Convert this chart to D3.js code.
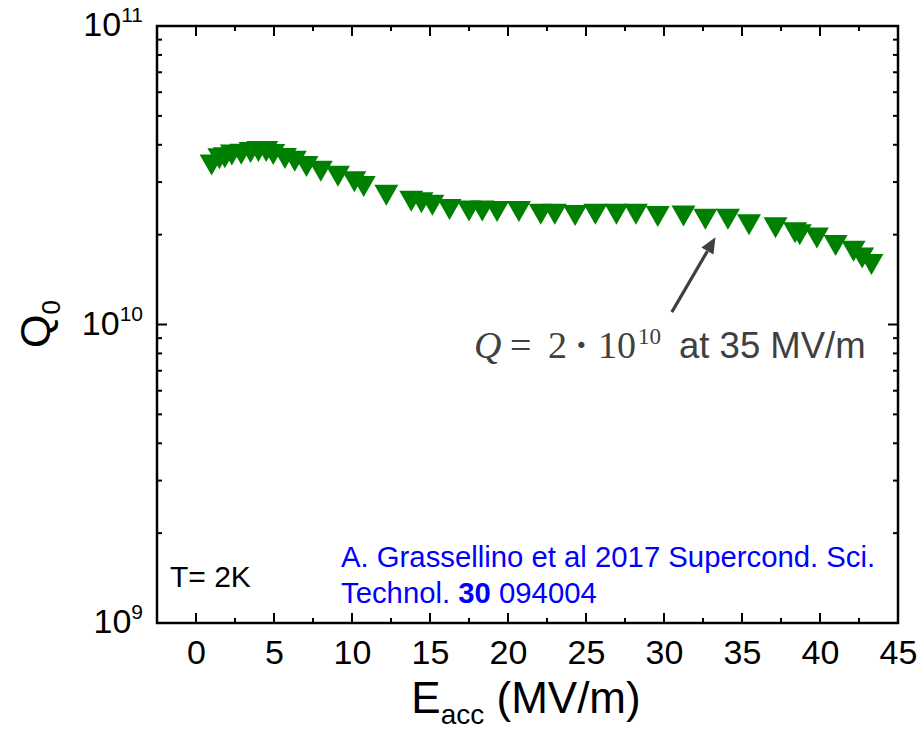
<!DOCTYPE html>
<html>
<head>
<meta charset="utf-8">
<script src="https://cdn.jsdelivr.net/npm/d3@7"></script>
<style>
  html, body { margin: 0; padding: 0; background: #fff; }
  svg { display: block; }
</style>
</head>
<body>
<svg id="chart" width="923" height="741"></svg>
<script>
// Accelerating gradient (MV/m)
const eacc = [1.0, 1.5, 1.85, 2.3, 2.9, 3.5, 4.0, 4.5, 4.95, 5.7,
              6.33, 7.08, 8.0, 9.1, 10.15, 10.75, 12.2, 13.8, 14.45, 15.15,
              16.25, 17.5, 18.35, 19.3, 20.7, 22.1, 23.0, 24.3, 25.6, 26.95,
              28.2, 29.6, 31.25, 32.65, 34.1, 35.45, 37.15, 38.4, 38.7, 39.8,
              41.0, 42.15, 42.7, 43.3];
// Quality factor Q0 (in units of 1e10)
const q0 = [3.42, 3.59, 3.62, 3.70, 3.72, 3.77, 3.80, 3.80, 3.71, 3.60,
            3.52, 3.38, 3.26, 3.14, 3.01, 2.90, 2.71, 2.59, 2.56, 2.51,
            2.43, 2.40, 2.40, 2.39, 2.39, 2.34, 2.34, 2.32, 2.34, 2.34,
            2.34, 2.30, 2.31, 2.25, 2.25, 2.16, 2.11, 2.03, 2.00, 1.95,
            1.84, 1.76, 1.67, 1.59];
const xTicks = [0, 5, 10, 15, 20, 25, 30, 35, 40, 45];
const xMinorTicks = [2.5, 7.5, 12.5, 17.5, 22.5, 27.5, 32.5, 37.5, 42.5];
const yTicks = [1e9, 1e10, 1e11];
const yTickExp = ["9", "10", "11"];
const yMinorTicks = [2e9,3e9,4e9,5e9,6e9,7e9,8e9,9e9,2e10,3e10,4e10,5e10,6e10,7e10,8e10,9e10];
// Arrow annotation (data coordinates): tail -> head
const arrowFrom = [30.5, 1.10e10];
const arrowTo = [33.3, 1.96e10];

const svg = d3.select("#chart");
svg.append("rect").attr("width", 923).attr("height", 741).attr("fill", "#fff");

const L = 157, R = 898, T = 26, B = 623;
const x = d3.scaleLinear().domain([-2.5, 45]).range([L, R]);
const y = d3.scaleLog().domain([1e9, 1e11]).range([B, T]);

const font = "'Liberation Sans', Arial, sans-serif";

// ticks
const tickG = svg.append("g").attr("stroke", "#000").attr("stroke-width", 2);
function vTicks(vals, len) {
  vals.forEach(v => {
    tickG.append("line").attr("x1", x(v)).attr("x2", x(v)).attr("y1", B).attr("y2", B - len);
    tickG.append("line").attr("x1", x(v)).attr("x2", x(v)).attr("y1", T).attr("y2", T + len);
  });
}
function hTicks(vals, len) {
  vals.forEach(v => {
    tickG.append("line").attr("y1", y(v)).attr("y2", y(v)).attr("x1", L).attr("x2", L + len);
    tickG.append("line").attr("y1", y(v)).attr("y2", y(v)).attr("x1", R).attr("x2", R - len);
  });
}
vTicks(xTicks, 10);
vTicks(xMinorTicks, 5);
hTicks(yTicks, 10);
hTicks(yMinorTicks, 5);

// x tick labels via d3 axis
const xAxis = d3.axisBottom(x).tickValues(xTicks).tickSize(0).tickPadding(17).tickFormat(d3.format("d"));
const gx = svg.append("g").attr("transform", `translate(0,${B})`).call(xAxis);
gx.select(".domain").remove();
gx.selectAll("text").attr("font-family", font).attr("font-size", 34).attr("fill", "#000");

// y tick labels with superscripts
yTicks.forEach((v, i) => {
  const t = svg.append("text").attr("x", 143).attr("y", y(v) + 10)
    .attr("text-anchor", "end").attr("font-family", font).attr("fill", "#000");
  t.append("tspan").attr("font-size", 34).text("10");
  t.append("tspan").attr("font-size", 21).attr("dy", -14).text(yTickExp[i]);
});

// frame
svg.append("rect").attr("x", L).attr("y", T).attr("width", R - L).attr("height", B - T)
  .attr("fill", "none").attr("stroke", "#000").attr("stroke-width", 2.5);

// data markers (down triangles)
const tri = "M-12,-10.5L12,-10.5L0,10.5Z";
svg.append("g").selectAll("path").data(eacc.map((e, i) => [e, q0[i] * 1e10]))
  .join("path")
  .attr("d", tri)
  .attr("transform", d => `translate(${x(d[0])},${y(d[1])})`)
  .attr("fill", "#008000");

// axis titles
const xt = svg.append("text").attr("x", 526).attr("y", 713).attr("text-anchor", "middle")
  .attr("font-family", font).attr("fill", "#000");
xt.append("tspan").attr("font-size", 44).text("E");
xt.append("tspan").attr("font-size", 28).attr("dy", 11).text("acc");
xt.append("tspan").attr("font-size", 44).attr("dy", -11).text(" (MV/m)");

const yt = svg.append("text").attr("transform", "translate(50,324) rotate(-90)")
  .attr("text-anchor", "middle").attr("font-family", font).attr("fill", "#000");
yt.append("tspan").attr("font-size", 43).text("Q");
yt.append("tspan").attr("font-size", 26).attr("dy", 10).text("0");

// T = 2K
svg.append("text").attr("x", 170).attr("y", 587).attr("font-family", font)
  .attr("font-size", 30).attr("fill", "#000").text("T= 2K");

// citation
svg.append("text").attr("x", 341).attr("y", 567).attr("font-family", font)
  .attr("font-size", 29.3).attr("fill", "#0000ff").text("A. Grassellino et al 2017 Supercond. Sci.");
const c2 = svg.append("text").attr("x", 341).attr("y", 603).attr("font-family", font)
  .attr("font-size", 29.3).attr("fill", "#0000ff");
c2.append("tspan").text("Technol. ");
c2.append("tspan").attr("font-weight", "bold").text("30");
c2.append("tspan").text(" 094004");

// arrow
const ax1 = x(arrowFrom[0]), ay1 = y(arrowFrom[1]);
const ax2 = x(arrowTo[0]), ay2 = y(arrowTo[1]);
const ang = Math.atan2(ay2 - ay1, ax2 - ax1);
const headLen = 16, headW = 7;
const bx = ax2 - headLen * Math.cos(ang), by = ay2 - headLen * Math.sin(ang);
svg.append("line").attr("x1", ax1).attr("y1", ay1).attr("x2", bx).attr("y2", by)
  .attr("stroke", "#404040").attr("stroke-width", 3.2);
svg.append("path")
  .attr("d", `M${ax2},${ay2}L${bx + headW * Math.sin(ang)},${by - headW * Math.cos(ang)}L${bx - headW * Math.sin(ang)},${by + headW * Math.cos(ang)}Z`)
  .attr("fill", "#404040");

// equation annotation
const serif = "'Liberation Serif', 'DejaVu Serif', serif";
const eq = svg.append("g").attr("fill", "#404040");
const base = 358;
eq.append("text").attr("x", 474).attr("y", base).attr("font-family", serif).attr("font-style", "italic").attr("font-size", 38).text("Q");
eq.append("text").attr("x", 510).attr("y", base).attr("font-family", serif).attr("font-size", 38).text("=");
eq.append("text").attr("x", 548).attr("y", base).attr("font-family", serif).attr("font-size", 38).text("2");
eq.append("text").attr("x", 575).attr("y", base).attr("font-family", serif).attr("font-size", 38).attr("font-weight", "bold").text("·");
eq.append("text").attr("x", 598).attr("y", base).attr("font-family", serif).attr("font-size", 38).text("10");
eq.append("text").attr("x", 638).attr("y", base - 14).attr("font-family", serif).attr("font-size", 23).text("10");
eq.append("text").attr("x", 679).attr("y", base).attr("font-family", font).attr("font-size", 36.5).text("at 35 MV/m");
</script>
</body>
</html>
